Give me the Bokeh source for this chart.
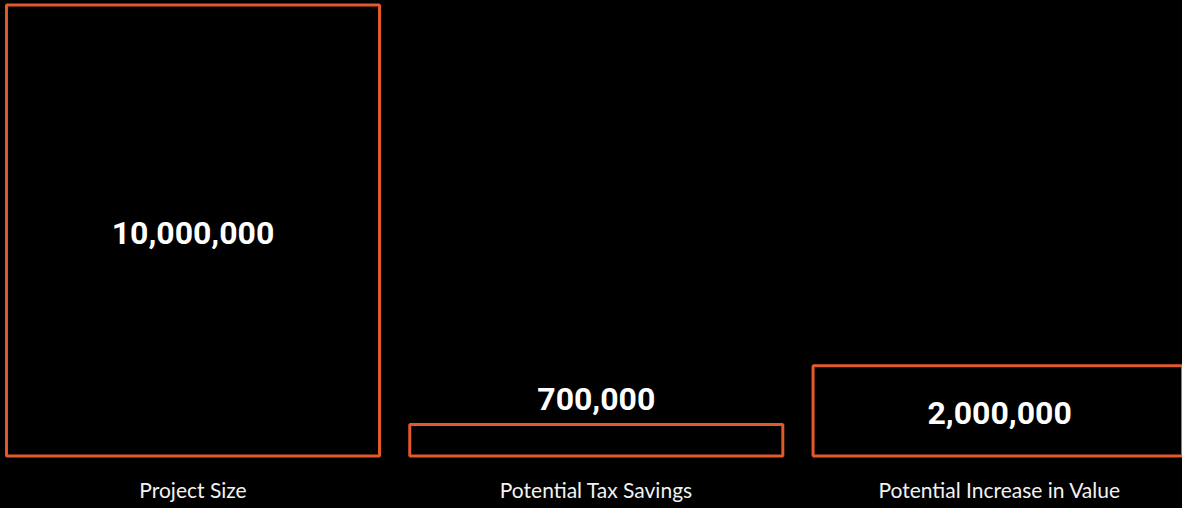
from bokeh.plotting import figure
from bokeh.models import Range1d, FixedTicker, ColumnDataSource, InlineStyleSheet
from bokeh.core.properties import value
from bokeh.embed import file_html
from bokeh.resources import INLINE

categories = ["Project Size", "Potential Tax Savings", "Potential Increase in Value"]
values = [10000000, 700000, 2000000]
value_labels = ["10,000,000", "700,000", "2,000,000"]

ORANGE = "#E2592A"
xs = list(range(len(categories)))

p = figure(frame_width=1182, frame_height=460, min_border=0, min_border_bottom=48,
           x_range=Range1d(-0.4773, 2.4535), y_range=Range1d(-99778, 10099800),
           output_backend="svg", toolbar_location=None, y_axis_location=None,
           background_fill_color="black",
           border_fill_color="black", outline_line_color=None)
p.stylesheets = [InlineStyleSheet(css=":host { background-color: black; }")]
p.grid.visible = False

p.vbar(x=xs, top=values, bottom=0, width=0.925, fill_color="black",
       line_color=ORANGE, line_width=3)

inside = [v >= 1500000 for v in values]
label_y = [v / 2 if ins else v for v, ins in zip(values, inside)]
label_off = [2.5 if ins else -25 for ins in inside]
src = ColumnDataSource(dict(x=xs, y=label_y, t=value_labels, off=label_off))
p.text(x="x", y="y", text="t", y_offset="off", source=src,
       text_font=value("Roboto"), text_font_style="bold", text_font_size="32px",
       text_color="white", text_align="center", text_baseline="middle")

ax = p.xaxis[0]
ax.ticker = FixedTicker(ticks=xs)
ax.major_label_overrides = {i: c for i, c in zip(xs, categories)}
ax.axis_line_color = None
ax.major_tick_line_color = None
ax.minor_tick_line_color = None
ax.major_tick_out = 0
ax.major_tick_in = 0
ax.minor_tick_out = 0
ax.major_label_standoff = 16
ax.major_label_text_font = "Lato"
ax.major_label_text_font_size = "21px"
ax.major_label_text_color = "#f2f2f2"

open("out.html", "w").write(file_html(p, INLINE))
